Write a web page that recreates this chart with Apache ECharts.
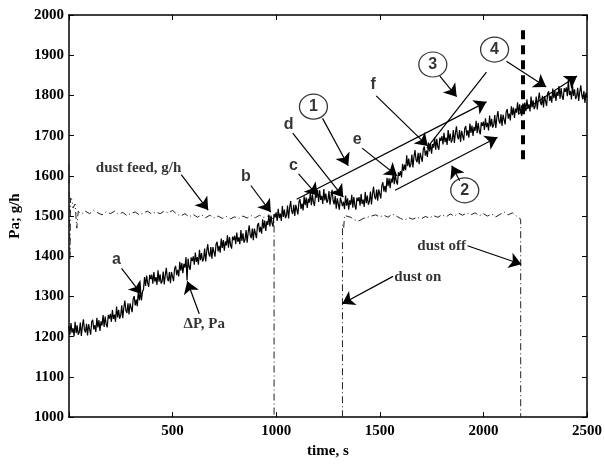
<!DOCTYPE html>
<html>
<head>
<meta charset="utf-8">
<script src="https://cdn.jsdelivr.net/npm/echarts@6/dist/echarts.min.js"></script>
<style>
  html, body { margin: 0; background: #fff; }
  #chart { width: 605px; height: 464px; }
</style>
</head>
<body>
<div id="chart"></div>
<script>
// pressure drop, one reading every 5 s from t = 0 to 2500 s (10 readings per row)
const dpStep = 5;
const dpValues = [
  1227,1205,1234,1210,1221,1201,1237,1209,1228,1205,
  1211,1235,1202,1226,1243,1217,1210,1232,1203,1231,
  1229,1205,1237,1242,1218,1229,1212,1247,1223,1241,
  1214,1238,1228,1254,1224,1250,1231,1223,1254,1245,
  1257,1237,1266,1244,1255,1237,1275,1248,1267,1245,
  1253,1278,1246,1272,1290,1265,1259,1283,1255,1283,
  1283,1261,1293,1301,1278,1292,1276,1312,1291,1311,
  1290,1312,1318,1348,1326,1352,1333,1324,1354,1343,
  1354,1332,1361,1337,1348,1329,1365,1337,1355,1332,
  1338,1362,1330,1353,1371,1345,1338,1361,1333,1361,
  1360,1338,1369,1376,1353,1366,1350,1386,1364,1383,
  1358,1381,1372,1398,1340,1394,1374,1366,1397,1388,
  1400,1379,1409,1386,1398,1379,1416,1390,1408,1387,
  1394,1419,1387,1413,1430,1406,1399,1423,1394,1423,
  1422,1399,1430,1436,1412,1426,1409,1444,1421,1440,
  1414,1437,1427,1452,1421,1448,1428,1419,1449,1440,
  1451,1430,1459,1436,1447,1430,1465,1438,1457,1434,
  1441,1465,1434,1459,1477,1452,1445,1469,1440,1469,
  1468,1445,1477,1483,1460,1473,1456,1492,1469,1489,
  1463,1487,1478,1504,1474,1501,1482,1474,1505,1497,
  1509,1488,1518,1495,1506,1488,1525,1498,1516,1495,
  1502,1526,1494,1520,1537,1512,1505,1528,1500,1528,
  1527,1504,1535,1542,1518,1531,1514,1549,1527,1546,
  1520,1543,1533,1558,1527,1554,1534,1525,1555,1546,
  1565,1535,1564,1540,1550,1530,1567,1539,1556,1533,
  1540,1562,1528,1550,1565,1538,1529,1550,1518,1544,
  1541,1516,1546,1550,1525,1536,1517,1551,1526,1544,
  1516,1539,1528,1553,1521,1547,1526,1516,1546,1537,
  1547,1526,1555,1530,1541,1523,1560,1532,1551,1528,
  1536,1561,1529,1555,1573,1548,1542,1566,1538,1566,
  1566,1544,1576,1584,1561,1575,1559,1595,1574,1594,
  1569,1593,1583,1609,1579,1605,1586,1578,1609,1600,
  1612,1596,1630,1612,1628,1614,1651,1624,1643,1621,
  1628,1653,1621,1647,1664,1640,1634,1657,1629,1657,
  1657,1635,1666,1673,1650,1663,1647,1683,1661,1680,
  1655,1679,1670,1695,1665,1692,1673,1665,1695,1687,
  1699,1678,1707,1684,1695,1677,1714,1687,1705,1683,
  1690,1714,1682,1706,1723,1698,1691,1714,1684,1712,
  1711,1688,1718,1724,1700,1713,1695,1730,1707,1725,
  1699,1722,1712,1737,1706,1732,1712,1703,1733,1724,
  1735,1714,1743,1721,1732,1713,1750,1723,1742,1720,
  1727,1751,1719,1744,1761,1737,1730,1753,1724,1752,
  1751,1728,1759,1766,1742,1755,1738,1773,1751,1770,
  1744,1767,1757,1783,1752,1778,1758,1749,1780,1771,
  1782,1761,1790,1767,1778,1760,1797,1770,1788,1766,
  1773,1797,1765,1790,1807,1783,1776,1799,1770,1798,
  1797,1774,1805,1810,1786,1799,1782,1817,1793,1812,
  1786,1809,1799,1823,1792,1818,1798,1789,1818,1809,
  1820,1798,1838,1801,1811,1790,1826,1799,1815,1791,
  1797,1819,1786,1809,1825,1800,1790,1811,1781,1807,
  1795
];

// dust feed [time, g/h]; 0 = feed switched off
const dustFeed = [
  [0,1630],[5,1390],[8,1545],[15,1540],[20,1520],[30,1530],[38,1470],[45,1512],
  [60,1505],[80,1512],[100,1506],[120,1514],[140,1508],[160,1503],[180,1511],[200,1506],
  [220,1512],[240,1504],[260,1509],[280,1501],[300,1507],[320,1510],[340,1503],[360,1508],
  [380,1512],[400,1505],[420,1510],[440,1506],[460,1512],[480,1508],[500,1514],[520,1505],
  [540,1500],[560,1506],[580,1498],[600,1504],[620,1497],[640,1503],[660,1496],[680,1502],
  [700,1495],[720,1500],[740,1494],[760,1499],[780,1493],[800,1498],[820,1494],[840,1500],
  [860,1495],[880,1501],[900,1496],[920,1502],[940,1497],[960,1500],[980,1495],[990,1492],
  [990,0],[1320,0],[1320,1478],[1326,1470],[1330,1502],
  [1340,1500],[1360,1497],[1380,1490],[1400,1488],[1420,1494],[1440,1497],[1460,1500],
  [1480,1503],[1500,1498],[1520,1502],[1540,1497],[1560,1505],[1580,1500],[1600,1494],
  [1620,1490],[1640,1496],[1660,1492],[1680,1497],[1700,1493],[1720,1499],[1740,1495],
  [1760,1501],[1780,1497],[1800,1503],[1820,1498],[1840,1505],[1860,1500],[1880,1507],
  [1900,1502],[1920,1508],[1940,1503],[1960,1508],[1980,1501],[2000,1506],[2020,1500],
  [2040,1505],[2060,1498],[2080,1504],[2100,1510],[2120,1503],[2140,1508],[2160,1500],
  [2175,1495],[2180,1490],[2180,0]
];

// annotations, in axis units
const serifNotes = [
  ['dust feed, g/h', 336, 1620],
  ['\u0394P, Pa', 653, 1230],
  ['dust on', 1684, 1348],
  ['dust off', 1799, 1424]
];
const letterNotes = [
  ['a', 230, 1392], ['b', 854, 1598], ['c', 1084, 1625],
  ['d', 1060, 1728], ['e', 1391, 1689], ['f', 1468, 1826]
];
const circleNotes = [
  ['1', 1180, 1772], ['2', 1910, 1564], ['3', 1756, 1877], ['4', 2054, 1914]
];
const arrows = [
  [542, 1603, 672, 1515],
  [878, 1576, 974, 1510],
  [1108, 1605, 1200, 1551],
  [1080, 1706, 1324, 1547],
  [1224, 1743, 1348, 1625],
  [1415, 1669, 1583, 1600],
  [1099, 1542, 2015, 1784],
  [1574, 1564, 2068, 1696],
  [1886, 1588, 1847, 1625],
  [1790, 1848, 1871, 1797],
  [1483, 1799, 1732, 1674],
  [2111, 1885, 2303, 1821],
  [2173, 1755, 2452, 1848],
  [1923, 1426, 2183, 1380],
  [1564, 1350, 1319, 1282],
  [254, 1370, 350, 1306],
  [629, 1257, 571, 1338]
];
const plainLines = [[2015, 1858, 1727, 1669]];
const cutLine = [2188, 1962, 1637];

const serif = '"Liberation Serif", "DejaVu Serif", serif';
const sans = '"Liberation Sans", Arial, sans-serif';
const ink = '#000';

const dpData = dpValues.map((v, i) => [i * dpStep, v]);
const pair = (l) => [{ coord: [l[0], l[1]] }, { coord: [l[2], l[3]] }];
const tickText = { color: ink, fontFamily: serif, fontWeight: 'bold', fontSize: 15 };

function frameAxis(pos, extra) {
  return Object.assign({
    type: 'value',
    position: pos,
    axisLine: { show: true, onZero: false, lineStyle: { color: ink, width: 1.5 } },
    axisTick: { show: true, inside: true, length: 5, lineStyle: { color: ink, width: 1 } },
    axisLabel: { show: false },
    splitLine: { show: false }
  }, extra);
}

const chart = echarts.init(document.getElementById('chart'));
chart.setOption({
  animation: false,
  backgroundColor: '#fff',
  grid: { left: 67, right: 17, top: 15, bottom: 41 },
  xAxis: [
    frameAxis('bottom', {
      min: 0, max: 2500, interval: 500,
      axisLabel: Object.assign({ margin: 7, formatter: (v) => (v === 0 ? '' : String(v)) }, tickText),
      name: 'time, s', nameLocation: 'middle', nameGap: 13,
      nameTextStyle: { color: ink, fontFamily: serif, fontWeight: 'bold', fontSize: 15, verticalAlign: 'top' }
    }),
    frameAxis('top', { min: 0, max: 2500, interval: 500 })
  ],
  yAxis: [
    frameAxis('left', {
      min: 1000, max: 2000, interval: 100,
      axisLabel: Object.assign({ margin: 5, formatter: (v) => String(v) }, tickText),
      name: 'Pa; g/h', nameLocation: 'middle', nameGap: 42,
      nameTextStyle: { color: ink, fontFamily: serif, fontWeight: 'bold', fontSize: 15 }
    }),
    frameAxis('right', { min: 1000, max: 2000, interval: 100 })
  ],
  series: [
    {
      name: 'dust feed',
      type: 'line',
      data: dustFeed,
      symbol: 'none',
      silent: true,
      lineStyle: { color: '#222', width: 1, type: [7, 3, 1, 3] },
      markLine: {
        silent: true,
        symbol: ['none', 'arrow'],
        symbolSize: 12,
        label: { show: false },
        lineStyle: { color: ink, width: 1.2, type: 'solid' },
        data: arrows.map(pair)
      }
    },
    {
      name: 'dP',
      type: 'line',
      data: dpData,
      symbol: 'none',
      silent: true,
      lineStyle: { color: ink, width: 1.2 },
      markLine: {
        silent: true,
        symbol: ['none', 'none'],
        label: { show: false },
        lineStyle: { color: ink, width: 1.2, type: 'solid' },
        data: plainLines.map(pair).concat([[
          { coord: [cutLine[0], cutLine[1]], lineStyle: { width: 4, type: [9, 6], color: ink } },
          { coord: [cutLine[0], cutLine[2]] }
        ]])
      }
    },
    {
      name: 'serif notes',
      type: 'scatter',
      symbolSize: 1,
      silent: true,
      itemStyle: { color: 'transparent' },
      label: { show: true, position: 'inside', color: ink, fontFamily: serif, fontWeight: 'bold', fontSize: 15, formatter: (p) => p.name },
      data: serifNotes.map((n) => ({ name: n[0], value: [n[1], n[2]] }))
    },
    {
      name: 'letters',
      type: 'scatter',
      symbolSize: 1,
      silent: true,
      itemStyle: { color: 'transparent' },
      label: { show: true, position: 'inside', color: ink, fontFamily: sans, fontWeight: 'bold', fontSize: 16, formatter: (p) => p.name },
      data: letterNotes.map((n) => ({ name: n[0], value: [n[1], n[2]] }))
    },
    {
      name: 'circles',
      type: 'scatter',
      symbol: 'circle',
      symbolSize: [28, 25],
      silent: true,
      itemStyle: { color: '#fff', borderColor: ink, borderWidth: 1.2 },
      label: { show: true, position: 'inside', color: ink, fontFamily: sans, fontWeight: 'bold', fontSize: 16, formatter: (p) => p.name },
      data: circleNotes.map((n) => ({ name: n[0], value: [n[1], n[2]] }))
    }
  ]
});
</script>
</body>
</html>
